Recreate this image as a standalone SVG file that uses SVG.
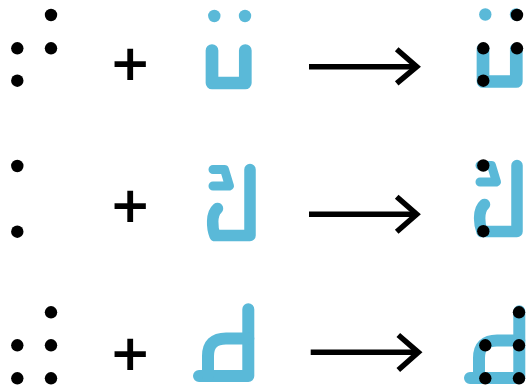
<svg xmlns="http://www.w3.org/2000/svg" width="527" height="387" viewBox="0 0 527 387">
<style>
.dot{fill:#000}
.b{fill:none;stroke:#5ab9d8;stroke-linecap:round;stroke-linejoin:round}
.bd{fill:#5ab9d8}
.plus{font-family:"DejaVu Sans",sans-serif;font-weight:bold;font-size:50px;fill:#000;text-anchor:middle}
.arr{fill:none;stroke:#000;stroke-width:5.5;stroke-linecap:butt;stroke-linejoin:miter}
</style>
<defs>
<g id="s1">
<circle class="bd" cx="214.3" cy="16" r="6.2"/>
<circle class="bd" cx="245" cy="16" r="6.2"/>
<path class="b" stroke-width="12.7" d="M212,50.6 V83 H245.3 V50.6"/>
</g>
<g id="s2">
<path class="b" stroke-width="11.5" d="M250,169.5 V235.5 H215 C212,228 211,214 217.5,208.5"/>
<path class="b" stroke-width="9" d="M213,169.5 H224.5 L229.5,186 H213"/>
</g>
<g id="s3">
<path class="b" stroke-width="12" d="M248.3,309.3 V376 H199"/>
<path class="b" stroke-width="12" d="M248.3,338.5 H226 Q208,338.5 208,356 V376"/>
</g>
<g id="d1">
<circle class="dot" cx="51" cy="15" r="6.2"/>
<circle class="dot" cx="17.3" cy="48.3" r="6.2"/>
<circle class="dot" cx="51" cy="48.3" r="6.2"/>
<circle class="dot" cx="17.3" cy="80.7" r="6.2"/>
</g>
<g id="d2">
<circle class="dot" cx="17.3" cy="166" r="6.2"/>
<circle class="dot" cx="17.3" cy="231.7" r="6.2"/>
</g>
<g id="d3">
<circle class="dot" cx="51" cy="312.3" r="6.2"/>
<circle class="dot" cx="17.3" cy="345.3" r="6.2"/>
<circle class="dot" cx="51" cy="345.3" r="6.2"/>
<circle class="dot" cx="17.3" cy="378.3" r="6.2"/>
<circle class="dot" cx="51" cy="378.3" r="6.2"/>
</g>
</defs>

<g id="braille1"><use href="#d1"/></g>
<g id="plus1"><text class="plus" x="130.3" y="79.5">+</text></g>
<g id="letter1"><use href="#s1"/></g>
<g id="result1"><use href="#s1" transform="translate(271,-1.5)"/><use href="#d1" transform="translate(466,0)"/></g>

<g id="braille2"><use href="#d2"/></g>
<g id="plus2"><text class="plus" x="130.3" y="222.3">+</text></g>
<g id="letter2"><use href="#s2"/></g>
<g id="result2"><use href="#s2" transform="translate(267,-4)"/><use href="#d2" transform="translate(466,-0.5)"/></g>

<g id="braille3"><use href="#d3"/></g>
<g id="plus3"><text class="plus" x="130.3" y="369.5">+</text></g>
<g id="letter3"><use href="#s3"/></g>
<g id="result3"><use href="#s3" transform="translate(271,2)"/><use href="#d3" transform="translate(468,0)"/></g>

<g id="connectors">
<path class="arr" d="M309,66.7 H414"/>
<path class="arr" d="M396.7,49.3 L416.7,66.7 L396.7,83.3"/>
<path class="arr" d="M309,214.3 H414"/>
<path class="arr" d="M396.7,196.7 L416.7,214.3 L396.7,231.7"/>
<path class="arr" d="M310.7,352.3 H415.5"/>
<path class="arr" d="M398.3,335 L418.3,352.3 L398.3,370"/>
</g>
</svg>
